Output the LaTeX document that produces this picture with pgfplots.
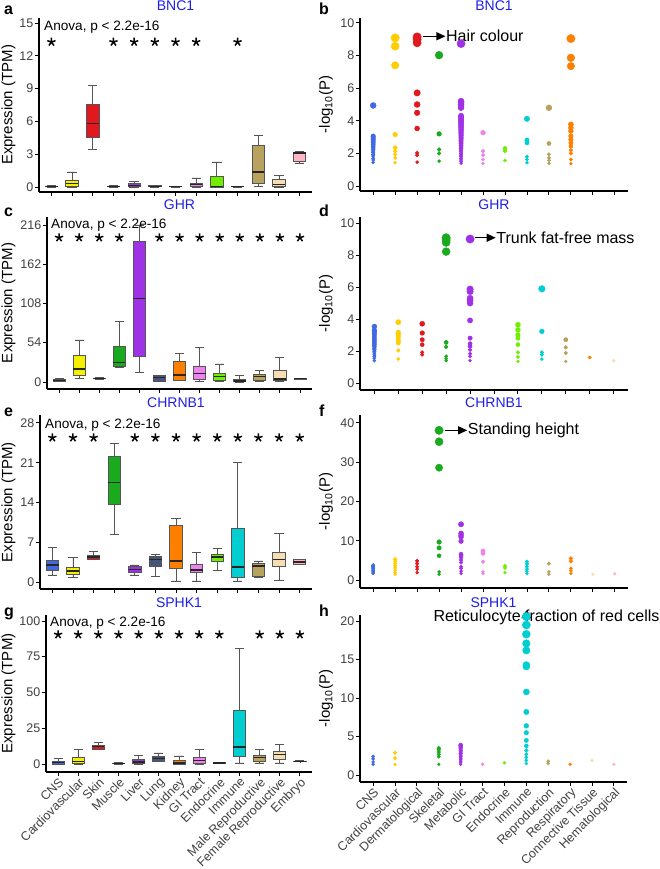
\documentclass[border=0pt]{standalone}
\usepackage{fontspec}
\setmainfont{Liberation Sans}
\usepackage{pgfplots}
\pgfplotsset{compat=1.18}
\usepgfplotslibrary{statistics}
\usetikzlibrary{arrows.meta}

\definecolor{cCNS}{RGB}{65,105,225}
\definecolor{cCar}{RGB}{245,240,0}
\definecolor{cCarR}{RGB}{255,205,0}
\definecolor{cSkin}{RGB}{225,25,30}
\definecolor{cMus}{RGB}{25,170,30}
\definecolor{cLiv}{RGB}{160,50,230}
\definecolor{cLung}{RGB}{70,85,120}
\definecolor{cKid}{RGB}{255,127,0}
\definecolor{cGI}{RGB}{238,130,238}
\definecolor{cEndo}{RGB}{110,240,0}
\definecolor{cImm}{RGB}{0,206,209}
\definecolor{cMale}{RGB}{184,162,94}
\definecolor{cFem}{RGB}{245,222,179}
\definecolor{cEmb}{RGB}{255,182,193}
\definecolor{boxgray}{RGB}{85,85,85}
\definecolor{titleblue}{RGB}{30,30,230}

\newcommand{\tickfont}{\fontsize{12.5}{14}\selectfont}
\newcommand{\anofont}{\fontsize{13.6}{15}\selectfont}
\newcommand{\labfont}{\fontsize{15}{17}\selectfont}
\newcommand{\annfont}{\fontsize{16}{18}\selectfont}

\newcommand{\bx}[7]{\addplot[boxplot prepared={draw position=#1, lower whisker=#3, lower quartile=#4, median=#5, upper quartile=#6, upper whisker=#7}, fill=#2, draw=boxgray, line width=0.8pt] coordinates {};}
\newcommand{\dotcol}[4]{\addplot[scatter, only marks, mark=*, point meta=y, scatter/use mapped color={draw=#1, fill=#1}, visualization depends on={rawy \as \ry}, scatter/@pre marker code/.append style={/tikz/mark size={1.4+2.8*pow(min(max((\ry-#2)/(#3-#2),0.001),1),0.75)}}] coordinates {#4};}
\newcommand{\stars}[1]{\addplot[only marks, mark=star, mark size=4.3pt, mark options={line width=1.5pt}, black] coordinates {#1};}

\pgfplotsset{
  base/.style={
    scale only axis, anchor=south west,
    axis lines=left, axis line style={-, line width=1.1pt, black},
    tick align=outside, major tick length=4pt,
    tick style={black, line width=0.9pt},
    tick label style={font=\tickfont, text=black!75},
    yticklabel style={inner sep=1.5pt},
    /pgf/number format/assume math mode=true,
    clip=false,
    title style={font=\fontsize{14}{16}\selectfont, text=titleblue, at={(0.5,1)}, anchor=base, yshift=1pt},
    point meta min=0, point meta max=50,
  },
  leftp/.style={base, xmin=0.4, xmax=13.6, xtick={1,...,13}, xticklabels={},
    boxplot/draw direction=y,
    boxplot/box extend=0.6, boxplot/whisker extend=0.45,
    boxplot/every median/.style={black!85, line width=1.3pt},
    boxplot/every box/.style={draw=boxgray, line width=0.8pt},
    boxplot/every whisker/.style={boxgray, line width=0.8pt}},
  rightp/.style={base, xmin=0.4, xmax=12.6, xtick={1,...,12}, xticklabels={}},
}

\begin{document}
\begin{tikzpicture}
\useasboundingbox (0pt,0pt) rectangle (660pt,869pt);

% ---------- a: BNC1 ----------
\begin{axis}[leftp, at={(39pt,677pt)}, width=273pt, height=174pt,
  ymin=-0.46, ymax=15.46, ytick={0,3,6,9,12,15}, title={BNC1}]
\bx{1}{cCNS}{0}{0.01}{0.03}{0.06}{0.12}
\bx{2}{cCar}{0}{0.08}{0.3}{0.62}{1.37}
\bx{3}{cSkin}{3.41}{4.57}{5.79}{7.53}{9.3}
\bx{4}{cMus}{0}{0.01}{0.02}{0.05}{0.1}
\bx{5}{cLiv}{0}{0.05}{0.15}{0.3}{0.5}
\bx{6}{cLung}{0}{0.03}{0.06}{0.1}{0.15}
\bx{7}{cKid}{0}{0.01}{0.02}{0.05}{0.08}
\bx{8}{cGI}{0}{0.05}{0.24}{0.35}{0.82}
\bx{9}{cEndo}{0}{0.0}{0.05}{1.0}{2.29}
\bx{10}{cImm}{0}{0.01}{0.02}{0.05}{0.08}
\bx{11}{cMale}{0.06}{0.3}{1.37}{3.81}{4.73}
\bx{12}{cFem}{0}{0.06}{0.2}{0.67}{1.07}
\bx{13}{cEmb}{2.2}{2.3}{3.1}{3.2}{3.25}
\stars{(1,13.26) (4,13.26) (5,13.26) (6,13.26) (7,13.26) (8,13.26) (10,13.26)}
\node[anchor=west, font=\anofont, inner sep=0] at ([xshift=5pt,yshift=-9pt]rel axis cs:0,1) {Anova, p < 2.2e-16};
\end{axis}

% ---------- c: GHR ----------
\begin{axis}[leftp, at={(47pt,480pt)}, width=265pt, height=172pt,
  ymin=-9.6, ymax=227, ytick={0,54,108,162,216}, title={GHR}]
\bx{1}{cCNS}{0.5}{1}{2}{3.5}{5}
\bx{2}{cCar}{5}{8.7}{17.9}{36.2}{57.8}
\bx{3}{cSkin}{4}{4.5}{5}{5.5}{6}
\bx{4}{cMus}{19.7}{22}{27}{48.6}{83}
\bx{5}{cLiv}{12.8}{34.9}{115}{193}{216}
\bx{6}{cLung}{0.5}{1.4}{6.4}{8.7}{9.6}
\bx{7}{cKid}{1.8}{1.8}{9.6}{28.9}{39.4}
\bx{8}{cGI}{0.5}{4.1}{11.9}{22}{47.7}
\bx{9}{cEndo}{1.4}{2.8}{7.3}{11.9}{24.8}
\bx{10}{cImm}{0}{0.2}{1.4}{3.7}{8.7}
\bx{11}{cMale}{0.5}{1.8}{7.3}{11}{16.5}
\bx{12}{cFem}{0.5}{2.8}{4.1}{16.5}{34}
\bx{13}{cEmb}{3.8}{4.2}{4.6}{5}{5.4}
\stars{(1,198.6) (2,198.6) (3,198.6) (4,198.6) (6,198.6) (7,198.6) (8,198.6) (9,198.6) (10,198.6) (11,198.6) (12,198.6) (13,198.6)}
\node[anchor=west, font=\anofont, inner sep=0] at ([xshift=4pt,yshift=-8pt]rel axis cs:0,1) {Anova, p < 2.2e-16};
\end{axis}

% ---------- e: CHRNB1 ----------
\begin{axis}[leftp, at={(40pt,280pt)}, width=272pt, height=174pt,
  ymin=-1.23, ymax=29.4, ytick={0,7,14,21,28}, title={CHRNB1}]
\bx{1}{cCNS}{1.24}{2.06}{3.0}{3.83}{6.07}
\bx{2}{cCar}{0.77}{1.36}{1.95}{2.54}{4.3}
\bx{3}{cSkin}{3.9}{3.9}{4.42}{4.72}{5.37}
\bx{4}{cMus}{8.43}{13.6}{17.57}{22.1}{24.35}
\bx{5}{cLiv}{1.24}{1.65}{2.18}{2.71}{3.0}
\bx{6}{cLung}{0.94}{2.83}{4.0}{4.42}{4.9}
\bx{7}{cKid}{0.18}{2.36}{3.7}{10.0}{11.2}
\bx{8}{cGI}{0.18}{1.65}{2.12}{3.1}{5.19}
\bx{9}{cEndo}{2.06}{3.6}{4.42}{4.9}{5.96}
\bx{10}{cImm}{0.18}{0.88}{2.65}{9.49}{21.1}
\bx{11}{cMale}{0.77}{0.94}{2.83}{3.3}{3.7}
\bx{12}{cFem}{0.35}{2.7}{4.0}{5.3}{8.55}
\bx{13}{cEmb}{3.1}{3.1}{3.5}{3.9}{3.9}
\stars{(1,25.4) (2,25.4) (3,25.4) (5,25.4) (6,25.4) (7,25.4) (8,25.4) (9,25.4) (10,25.4) (11,25.4) (12,25.4) (13,25.4)}
\node[anchor=west, font=\anofont, inner sep=0] at ([xshift=5pt,yshift=-10pt]rel axis cs:0,1) {Anova, p < 2.2e-16};
\end{axis}

% ---------- g: SPHK1 ----------
\begin{axis}[leftp, at={(46pt,97pt)}, width=266pt, height=157pt,
  ymin=-5.6, ymax=104.2, ytick={0,25,50,75,100}, title={SPHK1},
  xticklabels={CNS,Cardiovascular,Skin,Muscle,Liver,Lung,Kidney,GI Tract,Endocrine,Immune,Male Reproductive,Female Reproductive,Embryo},
  xticklabel style={rotate=45, anchor=north east, inner sep=0.5pt}]
\bx{1}{cCNS}{0}{0}{0.9}{1.9}{3.9}
\bx{2}{cCar}{0}{0.2}{1.9}{4.6}{10}
\bx{3}{cSkin}{10}{10}{12.3}{13}{15.3}
\bx{4}{cMus}{0}{0.1}{0.3}{0.5}{0.8}
\bx{5}{cLiv}{0}{0.3}{1.4}{3}{6}
\bx{6}{cLung}{2.1}{2.1}{3.7}{5.3}{7.7}
\bx{7}{cKid}{0}{0}{0.7}{2.3}{5.6}
\bx{8}{cGI}{0}{0.7}{2.6}{4.6}{10}
\bx{9}{cEndo}{0.3}{0.5}{0.7}{0.9}{1.2}
\bx{10}{cImm}{0.7}{5.3}{11.8}{37.8}{80.7}
\bx{11}{cMale}{0.7}{1.6}{4.6}{5.8}{10}
\bx{12}{cFem}{0.7}{3.5}{6.5}{8.8}{13.5}
\bx{13}{cEmb}{1.6}{1.7}{1.9}{2.1}{2.2}
\stars{(1,90.5) (2,90.5) (3,90.5) (4,90.5) (5,90.5) (6,90.5) (7,90.5) (8,90.5) (9,90.5) (11,90.5) (12,90.5) (13,90.5)}
\node[anchor=west, font=\anofont, inner sep=0] at ([xshift=4pt,yshift=-8pt]rel axis cs:0,1) {Anova, p < 2.2e-16};
\end{axis}

% ---------- b: BNC1 ----------
\begin{axis}[rightp, at={(360pt,678pt)}, width=268pt, height=173pt,
  ymin=-0.3, ymax=10.3, ytick={0,2,4,6,8,10}, title={BNC1}]
\dotcol{cCNS}{1.3}{9.1}{(1,4.94) (1,3.06) (1,2.95) (1,2.85) (1,2.75) (1,2.65) (1,2.55) (1,2.45) (1,2.35) (1,2.25) (1,2.15) (1,2.05) (1,1.95) (1,1.85) (1,1.7) (1,1.6) (1,1.45)}
\dotcol{cCarR}{1.3}{9.1}{(2,9.08) (2,8.57) (2,7.4) (2,3.16) (2,2.35) (2,2.14) (2,1.94) (2,1.73) (2,1.43)}
\dotcol{cSkin}{1.3}{9.1}{(3,9.14) (3,8.98) (3,8.78) (3,5.71) (3,5.0) (3,4.49) (3,3.53) (3,2.04) (3,1.9) (3,1.47)}
\dotcol{cMus}{1.3}{9.1}{(4,8.02) (4,3.2) (4,2.24) (4,2.0) (4,1.53)}
\dotcol{cLiv}{1.3}{9.1}{(5,8.73) (5,5.2) (5,5.1) (5,5.0) (5,4.9) (5,4.8) (5,4.3) (5,4.2) (5,4.1) (5,4.0) (5,3.9) (5,3.8) (5,3.7) (5,3.6) (5,3.5) (5,3.4) (5,3.3) (5,3.2) (5,3.1) (5,3.0) (5,2.9) (5,2.8) (5,2.7) (5,2.6) (5,2.5) (5,2.4) (5,2.3) (5,2.2) (5,2.1) (5,2.0) (5,1.9) (5,1.8) (5,1.7) (5,1.6) (5,1.5) (5,1.4)}
\dotcol{cGI}{1.3}{9.1}{(6,3.27) (6,2.14) (6,1.9) (6,1.63) (6,1.39)}
\dotcol{cEndo}{1.3}{9.1}{(7,2.31) (7,2.14) (7,1.57)}
\dotcol{cImm}{1.3}{9.1}{(8,4.12) (8,2.82) (8,2.65) (8,1.8) (8,1.63) (8,1.43)}
\dotcol{cMale}{1.3}{9.1}{(9,4.8) (9,2.61) (9,1.94) (9,1.73) (9,1.57) (9,1.39)}
\dotcol{cKid}{1.3}{9.1}{(10,9.04) (10,7.86) (10,7.35) (10,3.78) (10,3.57) (10,3.37) (10,3.06) (10,2.86) (10,2.65) (10,2.45) (10,2.2) (10,2.0) (10,1.63) (10,1.37)}
\draw[line width=1.2pt, -{Triangle[length=9pt,width=8pt]}] (axis cs:3.28,9.18) -- (axis cs:4.29,9.18);
\node[anchor=west, font=\annfont, inner sep=0.5pt] at (axis cs:4.29,9.18) {Hair colour};
\end{axis}

% ---------- d: GHR ----------
\begin{axis}[base, xmin=0.4, xmax=11.6, xtick={1,...,11}, xticklabels={}, at={(360pt,479pt)}, width=268pt, height=173pt,
  ymin=-0.44, ymax=10.4, ytick={0,2,4,6,8,10}, title={GHR}]
\dotcol{cCNS}{1.3}{9.1}{(1,3.54) (1,3.3) (1,3.17) (1,3.02) (1,2.85) (1,2.71) (1,2.6) (1,2.5) (1,2.4) (1,2.29) (1,2.18) (1,2.08) (1,1.98) (1,1.88) (1,1.77) (1,1.67) (1,1.55) (1,1.4)}
\dotcol{cCarR}{1.3}{9.1}{(2,3.81) (2,3.17) (2,3.02) (2,2.88) (2,2.71) (2,2.6) (2,2.5) (2,2.04) (2,1.5)}
\dotcol{cSkin}{1.3}{9.1}{(3,3.71) (3,3.13) (3,2.71) (3,2.4) (3,1.92) (3,1.77)}
\dotcol{cMus}{1.3}{9.1}{(4,9.1) (4,8.96) (4,8.81) (4,8.23) (4,2.54) (4,2.25) (4,1.67) (4,1.52) (4,1.4)}
\dotcol{cLiv}{1.3}{9.1}{(5,9.02) (5,5.88) (5,5.73) (5,5.31) (5,5.17) (5,5.0) (5,3.92) (5,2.81) (5,2.46) (5,2.29) (5,2.08) (5,1.83) (5,1.67) (5,1.4)}
\dotcol{cEndo}{1.3}{9.1}{(7,3.65) (7,3.33) (7,3.02) (7,2.81) (7,2.4) (7,1.92) (7,1.63) (7,1.35)}
\dotcol{cImm}{1.3}{9.1}{(8,5.9) (8,3.23) (8,1.92) (8,1.77) (8,1.5)}
\dotcol{cMale}{1.3}{9.1}{(9,2.71) (9,2.23) (9,1.88) (9,1.35)}
\dotcol{cKid}{1.3}{9.1}{(10,1.6)}
\dotcol{cFem}{1.3}{9.1}{(11,1.4)}
\draw[line width=1.2pt, -{Triangle[length=9pt,width=8pt]}] (axis cs:5.21,9.1) -- (axis cs:6.07,9.1);
\node[anchor=west, font=\annfont, inner sep=0.5pt] at (axis cs:6.07,9.1) {Trunk fat-free mass};
\end{axis}

% ---------- f: CHRNB1 ----------
\begin{axis}[rightp, at={(360pt,281pt)}, width=268pt, height=173pt,
  ymin=-2, ymax=42, ytick={0,10,20,30,40}, title={CHRNB1}]
\dotcol{cCNS}{1.3}{38}{(1,3.8) (1,3.6) (1,3.4) (1,3.2) (1,3.0) (1,2.8) (1,2.5) (1,2.3) (1,2.1) (1,1.9) (1,1.7)}
\dotcol{cCarR}{1.3}{38}{(2,5.3) (2,4.8) (2,4.2) (2,3.6) (2,3.1) (2,2.5) (2,1.9) (2,1.5)}
\dotcol{cSkin}{1.3}{38}{(3,4.9) (3,4.2) (3,3.4) (3,2.8) (3,1.9)}
\dotcol{cMus}{1.3}{38}{(4,38.1) (4,35.2) (4,28.6) (4,9.7) (4,8.2) (4,6.2) (4,2.1) (4,1.5)}
\dotcol{cLiv}{1.3}{38}{(5,14.2) (5,11.9) (5,11.4) (5,11.0) (5,9.9) (5,6.6) (5,6.2) (5,5.7) (5,5.1) (5,4.5) (5,3.4) (5,3.0) (5,2.3) (5,1.7)}
\dotcol{cGI}{1.3}{38}{(6,7.4) (6,6.8) (6,4.7) (6,2.1) (6,1.7)}
\dotcol{cEndo}{1.3}{38}{(7,3.6) (7,3.1) (7,1.9)}
\dotcol{cImm}{1.3}{38}{(8,4.7) (8,4.1) (8,3.4) (8,2.8) (8,2.3) (8,1.7)}
\dotcol{cMale}{1.3}{38}{(9,4.2) (9,2.1) (9,1.5)}
\dotcol{cKid}{1.3}{38}{(10,5.5) (10,4.8) (10,3.0) (10,2.4) (10,1.7)}
\dotcol{cFem}{1.3}{38}{(11,1.5)}
\dotcol{cEmb}{1.3}{38}{(12,1.6)}
\draw[line width=1.2pt, -{Triangle[length=9pt,width=8pt]}] (axis cs:4.29,38.1) -- (axis cs:5.28,38.1);
\node[anchor=west, font=\annfont, inner sep=0.5pt] at (axis cs:5.28,38.1) {Standing height};
\end{axis}

% ---------- h: SPHK1 ----------
\begin{axis}[rightp, at={(360pt,87pt)}, width=267pt, height=167pt,
  ymin=-0.9, ymax=20.8, ytick={0,5,10,15,20}, title={SPHK1},
  xticklabels={CNS,Cardiovascular,Dermatological,Skeletal,Metabolic,GI Tract,Endocrine,Immune,Reproduction,Respiratory,Connective Tissue,Hematological},
  xticklabel style={rotate=45, anchor=north east, inner sep=0.5pt}]
\dotcol{cCNS}{1.3}{20.6}{(1,2.4) (1,2.1) (1,1.7) (1,1.4)}
\dotcol{cCarR}{1.3}{20.6}{(2,2.9) (2,2.2) (2,1.4)}
\dotcol{cMus}{1.3}{20.6}{(4,3.5) (4,3.3) (4,3.0) (4,2.7) (4,2.4) (4,1.4)}
\dotcol{cLiv}{1.3}{20.6}{(5,3.9) (5,3.8) (5,3.6) (5,3.4) (5,3.2) (5,3.0) (5,2.8) (5,2.6) (5,2.4) (5,2.2) (5,2.0) (5,1.8) (5,1.6) (5,1.4)}
\dotcol{cGI}{1.3}{20.6}{(6,1.4)}
\dotcol{cEndo}{1.3}{20.6}{(7,1.6)}
\dotcol{cImm}{1.3}{20.6}{(8,20.6) (8,19.5) (8,18.3) (8,17.1) (8,16.2) (8,14.3) (8,14.1) (8,10.8) (8,8.2) (8,6.4) (8,5.5) (8,4.5) (8,3.8) (8,3.2) (8,2.7) (8,2.3) (8,1.9) (8,1.5)}
\dotcol{cMale}{1.3}{20.6}{(9,1.8) (9,1.5)}
\dotcol{cKid}{1.3}{20.6}{(10,1.4)}
\dotcol{cFem}{1.3}{20.6}{(11,1.9)}
\dotcol{cEmb}{1.3}{20.6}{(12,1.4)}
\fill[black] (axis cs:7.77,20.4) -- (axis cs:8.23,20.4) -- (axis cs:8,21.4) -- cycle;
\node[anchor=west, font=\annfont, inner sep=0] at (axis cs:3.75,20.45) {Reticulocyte fraction of red cells};
\end{axis}

% ---------- y labels and panel letters ----------
\foreach \yy in {764,566,367,175.5} {\node[rotate=90, font=\labfont] at (8.5pt,\yy pt) {Expression (TPM)};}
\foreach \yy in {764.5,565.5,367.5,170.5} {\node[rotate=90, font=\labfont] at (326pt,\yy pt) {-log\textsubscript{10}(P)};}
\node[anchor=base west, font=\fontsize{16}{18}\selectfont\bfseries, inner sep=0] at (4pt,854pt) {a};
\node[anchor=base west, font=\fontsize{16}{18}\selectfont\bfseries, inner sep=0] at (319pt,854pt) {b};
\node[anchor=base west, font=\fontsize{16}{18}\selectfont\bfseries, inner sep=0] at (4pt,652pt) {c};
\node[anchor=base west, font=\fontsize{16}{18}\selectfont\bfseries, inner sep=0] at (319pt,652pt) {d};
\node[anchor=base west, font=\fontsize{16}{18}\selectfont\bfseries, inner sep=0] at (4pt,452pt) {e};
\node[anchor=base west, font=\fontsize{16}{18}\selectfont\bfseries, inner sep=0] at (319pt,452pt) {f};
\node[anchor=base west, font=\fontsize{16}{18}\selectfont\bfseries, inner sep=0] at (4pt,252pt) {g};
\node[anchor=base west, font=\fontsize{16}{18}\selectfont\bfseries, inner sep=0] at (319pt,252pt) {h};
\end{tikzpicture}
\end{document}
